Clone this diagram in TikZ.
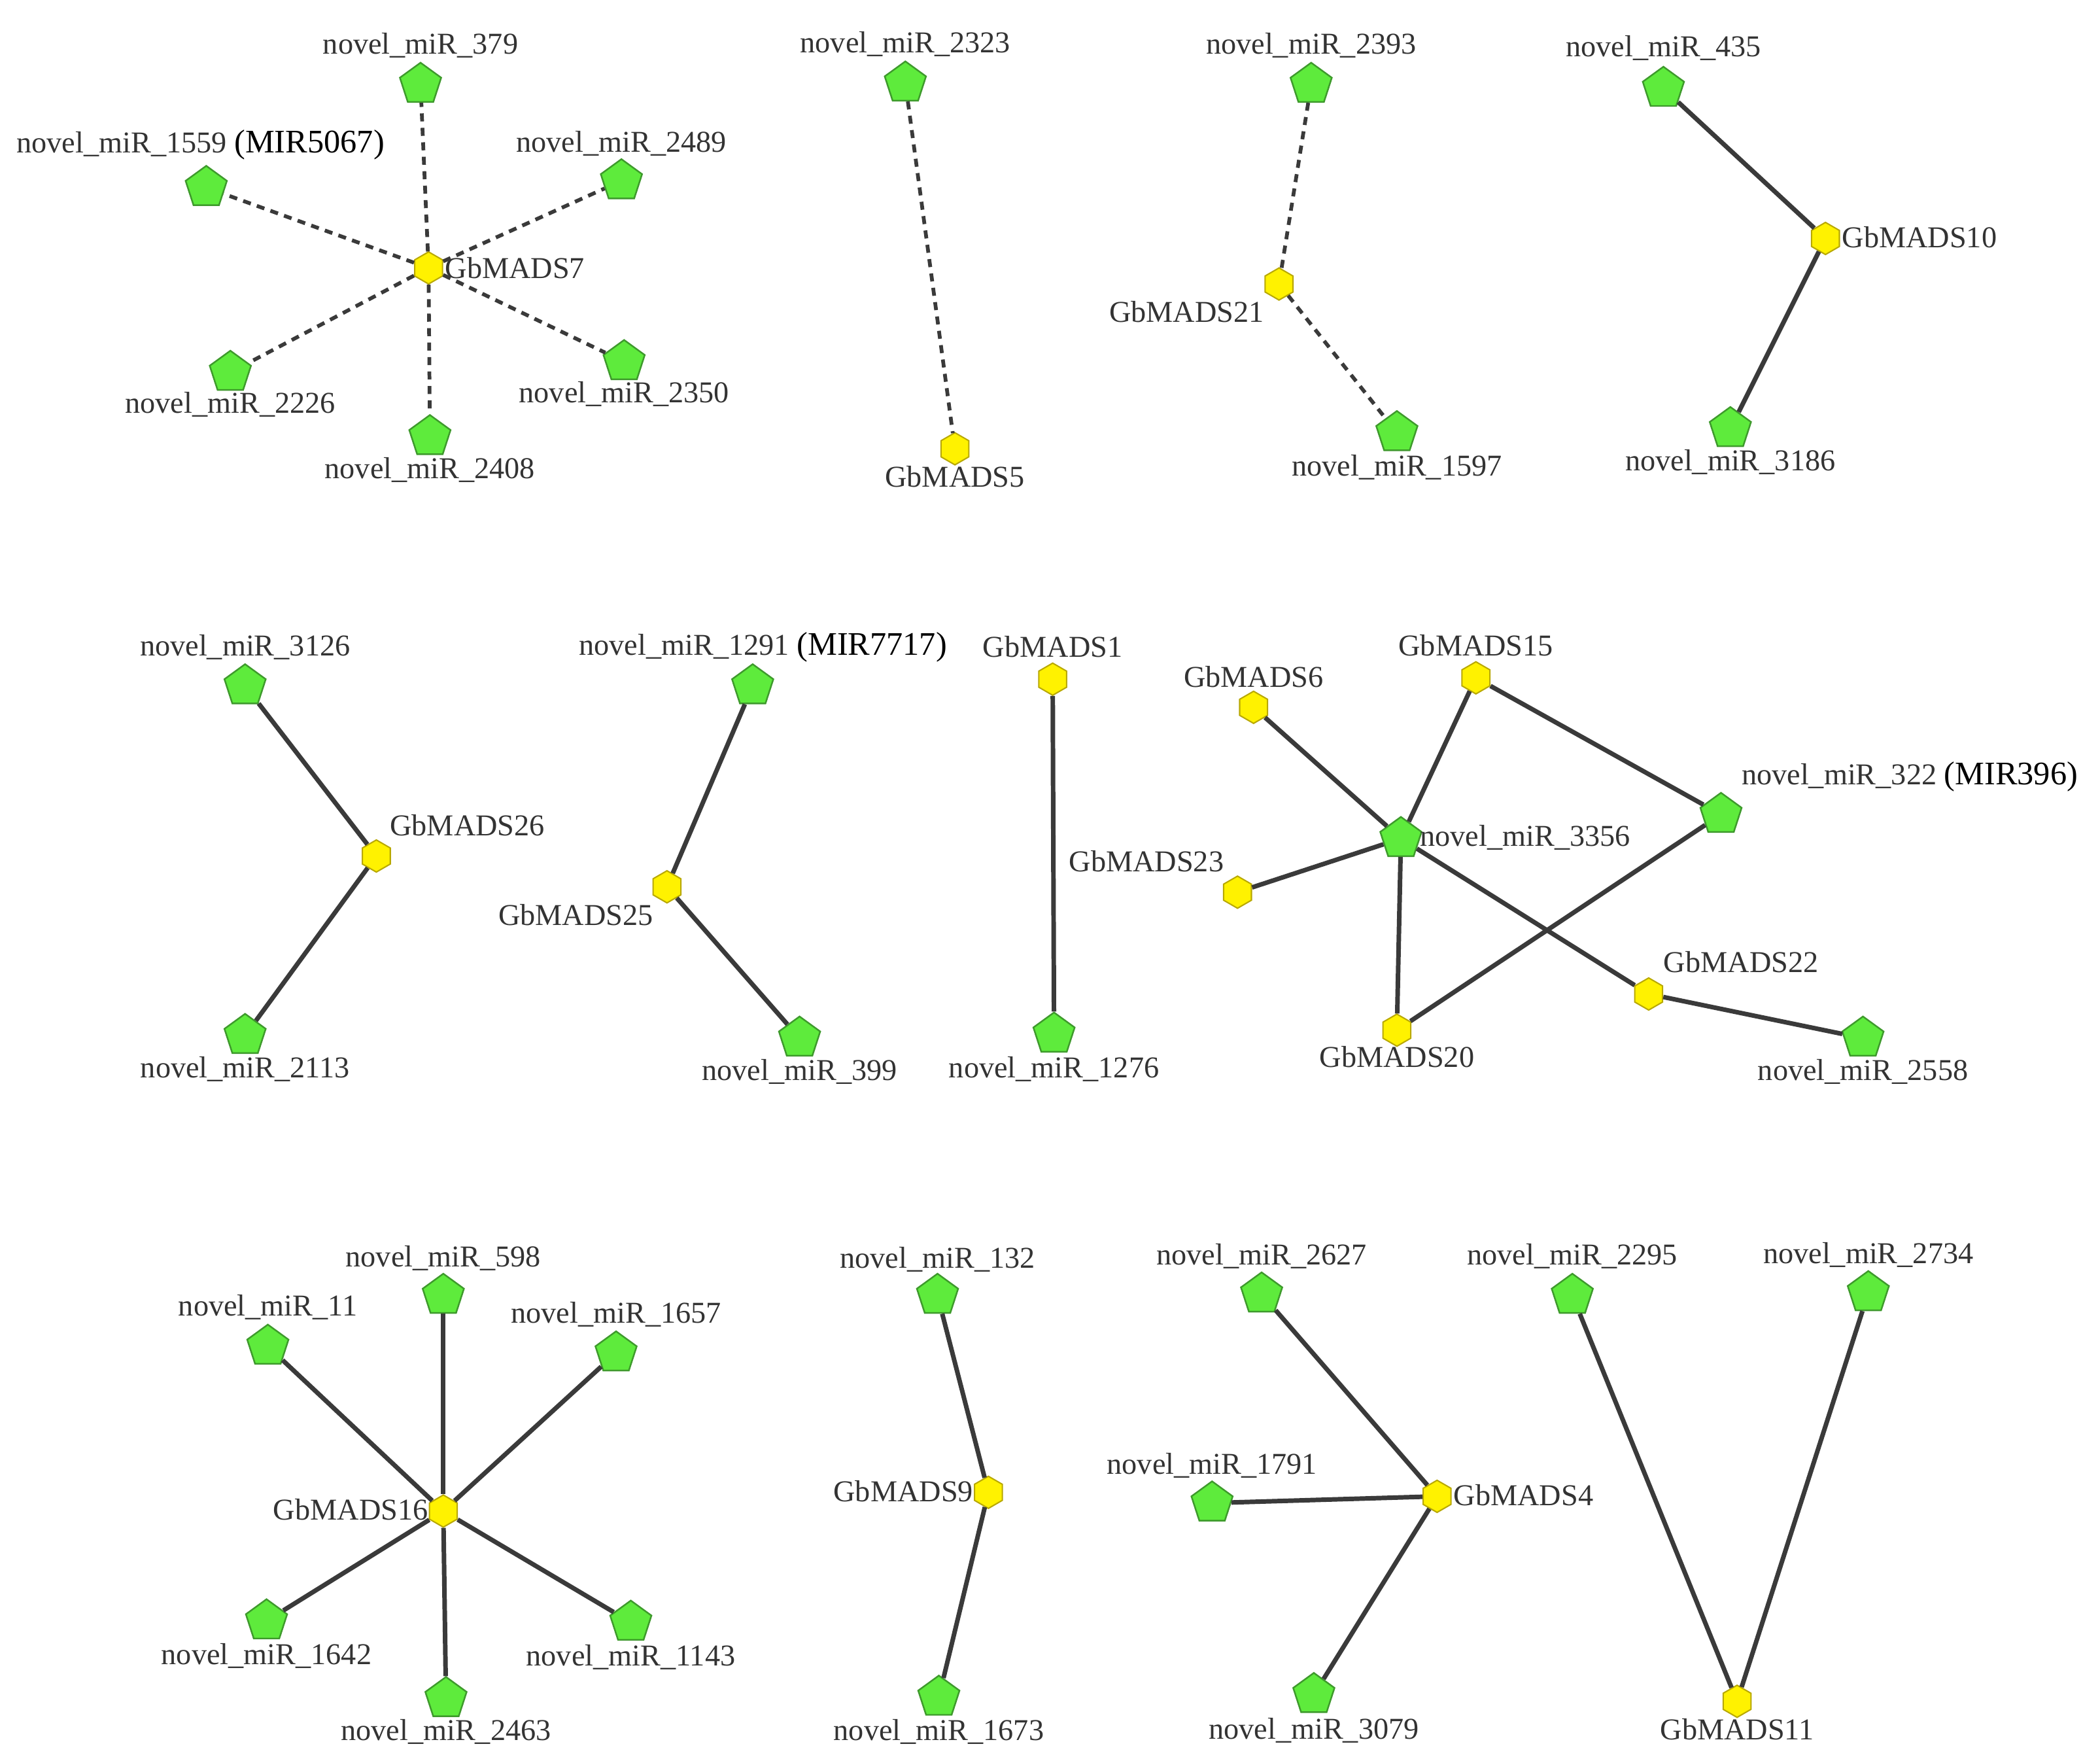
\documentclass[tikz,border=0pt]{standalone}
\usepackage{fontspec}
\setmainfont{Liberation Serif}
\usetikzlibrary{shapes.geometric}
\definecolor{mirgreen}{HTML}{5EEB3C}
\definecolor{mirline}{HTML}{3E9A2C}
\definecolor{madsyellow}{HTML}{FFF200}
\definecolor{madsline}{HTML}{B8A800}
\definecolor{edgegray}{HTML}{3A3A3A}
\definecolor{txtgray}{HTML}{333333}
\tikzset{
  mir/.style={regular polygon, regular polygon sides=5, minimum size=16.2pt, inner sep=0pt, fill=mirgreen, draw=mirline, line width=0.6pt},
  mads/.style={regular polygon, regular polygon sides=6, shape border rotate=30, minimum size=12pt, inner sep=0pt, fill=madsyellow, draw=madsline, line width=0.5pt},
  txt/.style={font=\fontsize{11.3}{13}\selectfont, text=txtgray, inner sep=0pt},
  link/.style={draw=edgegray, line width=1.7pt},
  dlink/.style={link, line width=1.4pt, dash pattern=on 3pt off 2.4pt}
}
\newcommand{\mirfam}[1]{{\fontsize{12.3}{14}\selectfont\color{black}#1}}
\begin{document}
\begin{tikzpicture}[x=0.5pt, y=-0.5pt]
\useasboundingbox (0,0) rectangle (1568,1313);

% first row
\node[mads] (g7) at (320,200) {};
\node[txt, anchor=west] (g7t) at (332,200) {GbMADS7};
\node[mir] (m379) at (314,63) {};
\node[txt] (m379t) at (314,34) {novel\_miR\_379};
\node[mir] (m1559) at (154,140) {};
\node[txt, anchor=west] (m1559t) at (12,108) {novel\_miR\_1559 \mirfam{(MIR5067)}};
\node[mir] (m2489) at (464,135) {};
\node[txt] (m2489t) at (464,107) {novel\_miR\_2489};
\node[mir] (m2226) at (172,278) {};
\node[txt] (m2226t) at (172,302) {novel\_miR\_2226};
\node[mir] (m2350) at (466,270) {};
\node[txt] (m2350t) at (466,294) {novel\_miR\_2350};
\node[mir] (m2408) at (321,326) {};
\node[txt] (m2408t) at (321,351) {novel\_miR\_2408};
\foreach \m in {m379,m1559,m2489,m2226,m2350,m2408}
  \draw[dlink] (g7) -- (\m);

\node[mir] (m2323) at (676,62) {};
\node[txt] (m2323t) at (676,33) {novel\_miR\_2323};
\node[mads] (g5) at (713,335) {};
\node[txt] (g5t) at (713,356) {GbMADS5};
\draw[dlink] (m2323) -- (g5);

\node[mir] (m2393) at (979,63) {};
\node[txt] (m2393t) at (979,34) {novel\_miR\_2393};
\node[mads] (g21) at (955,212) {};
\node[txt] (g21t) at (886,233) {GbMADS21};
\node[mir] (m1597) at (1043,323) {};
\node[txt] (m1597t) at (1043,349) {novel\_miR\_1597};
\draw[dlink] (m2393) -- (g21);
\draw[dlink] (g21) -- (m1597);

\node[mir] (m435) at (1242,66) {};
\node[txt] (m435t) at (1242,36) {novel\_miR\_435};
\node[mads] (g10) at (1363,178) {};
\node[txt, anchor=west] (g10t) at (1375,177) {GbMADS10};
\node[mir] (m3186) at (1292,320) {};
\node[txt] (m3186t) at (1292,345) {novel\_miR\_3186};
\draw[link] (m435) -- (g10);
\draw[link] (g10) -- (m3186);

% second row
\node[mir] (m3126) at (183,512) {};
\node[txt] (m3126t) at (183,483) {novel\_miR\_3126};
\node[mads] (g26) at (281,639) {};
\node[txt] (g26t) at (349,616) {GbMADS26};
\node[mir] (m2113) at (183,773) {};
\node[txt] (m2113t) at (183,798) {novel\_miR\_2113};
\draw[link] (m3126) -- (g26);
\draw[link] (g26) -- (m2113);

\node[mir] (m1291) at (562,512) {};
\node[txt, anchor=west] (m1291t) at (432,483) {novel\_miR\_1291 \mirfam{(MIR7717)}};
\node[mads] (g25) at (498,662) {};
\node[txt] (g25t) at (430,683) {GbMADS25};
\node[mir] (m399) at (597,775) {};
\node[txt] (m399t) at (597,800) {novel\_miR\_399};
\draw[link] (m1291) -- (g25);
\draw[link] (g25) -- (m399);

\node[mads] (g1) at (786,507) {};
\node[txt] (g1t) at (786,483) {GbMADS1};
\node[mir] (m1276) at (787,772) {};
\node[txt] (m1276t) at (787,798) {novel\_miR\_1276};
\draw[link] (g1) -- (m1276);

\node[mir] (m3356) at (1046,626) {};
\node[txt, anchor=west] (m3356t) at (1060,625) {novel\_miR\_3356};
\node[mads] (g6) at (936,528) {};
\node[txt] (g6t) at (936,505) {GbMADS6};
\node[mads] (g15) at (1102,506) {};
\node[txt] (g15t) at (1102,482) {GbMADS15};
\node[mir] (m322) at (1285,608) {};
\node[txt, anchor=west] (m322t) at (1300,580) {novel\_miR\_322 \mirfam{(MIR396)}};
\node[mads] (g23) at (924,666) {};
\node[txt] (g23t) at (856,643) {GbMADS23};
\node[mads] (g22) at (1231,742) {};
\node[txt] (g22t) at (1300,718) {GbMADS22};
\node[mads] (g20) at (1043,769) {};
\node[txt] (g20t) at (1043,789) {GbMADS20};
\node[mir] (m2558) at (1391,775) {};
\node[txt] (m2558t) at (1391,800) {novel\_miR\_2558};
\foreach \g in {g6,g15,g23,g20,g22}
  \draw[link] (m3356) -- (\g);
\draw[link] (g15) -- (m322);
\draw[link] (m322) -- (g20);
\draw[link] (g22) -- (m2558);

% third row
\node[mads] (g16) at (331,1128) {};
\node[txt, anchor=east] (g16t) at (320,1127) {GbMADS16};
\node[mir] (m598) at (331,967) {};
\node[txt] (m598t) at (331,939) {novel\_miR\_598};
\node[mir] (m11) at (200,1005) {};
\node[txt] (m11t) at (200,976) {novel\_miR\_11};
\node[mir] (m1657) at (460,1010) {};
\node[txt] (m1657t) at (460,981) {novel\_miR\_1657};
\node[mir] (m1642) at (199,1210) {};
\node[txt] (m1642t) at (199,1236) {novel\_miR\_1642};
\node[mir] (m1143) at (471,1211) {};
\node[txt] (m1143t) at (471,1237) {novel\_miR\_1143};
\node[mir] (m2463) at (333,1268) {};
\node[txt] (m2463t) at (333,1293) {novel\_miR\_2463};
\foreach \m in {m598,m11,m1657,m1642,m1143,m2463}
  \draw[link] (g16) -- (\m);

\node[mir] (m132) at (700,967) {};
\node[txt] (m132t) at (700,940) {novel\_miR\_132};
\node[mads] (g9) at (738,1114) {};
\node[txt, anchor=east] (g9t) at (727,1113) {GbMADS9};
\node[mir] (m1673) at (701,1267) {};
\node[txt] (m1673t) at (701,1293) {novel\_miR\_1673};
\draw[link] (m132) -- (g9);
\draw[link] (g9) -- (m1673);

\node[mads] (g4) at (1073,1117) {};
\node[txt, anchor=west] (g4t) at (1085,1116) {GbMADS4};
\node[mir] (m2627) at (942,966) {};
\node[txt] (m2627t) at (942,938) {novel\_miR\_2627};
\node[mir] (m1791) at (905,1122) {};
\node[txt] (m1791t) at (905,1094) {novel\_miR\_1791};
\node[mir] (m3079) at (981,1265) {};
\node[txt] (m3079t) at (981,1292) {novel\_miR\_3079};
\foreach \m in {m2627,m1791,m3079}
  \draw[link] (g4) -- (\m);

\node[mir] (m2295) at (1174,967) {};
\node[txt] (m2295t) at (1174,938) {novel\_miR\_2295};
\node[mir] (m2734) at (1395,965) {};
\node[txt] (m2734t) at (1395,937) {novel\_miR\_2734};
\node[mads] (g11) at (1297,1270) {};
\node[txt] (g11t) at (1297,1291) {GbMADS11};
\draw[link] (m2295) -- (g11);
\draw[link] (m2734) -- (g11);
\end{tikzpicture}
\end{document}
